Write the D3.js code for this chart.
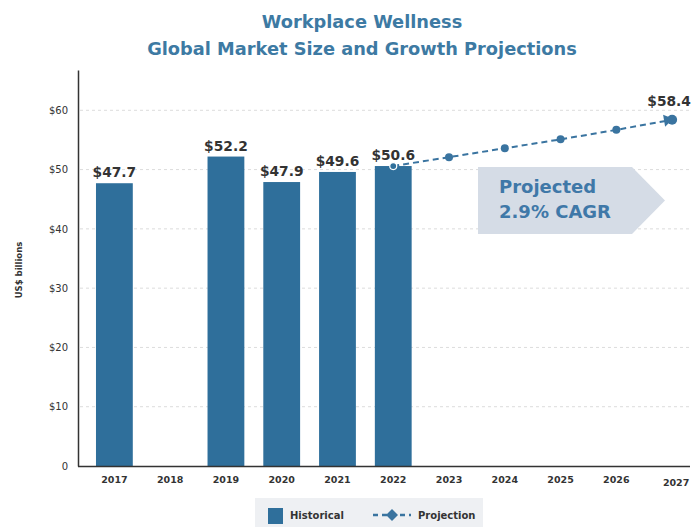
<!DOCTYPE html>
<html>
<head>
<meta charset="utf-8">
<script src="https://cdn.jsdelivr.net/npm/d3@7/dist/d3.min.js"></script>
<style>
  html, body { margin: 0; padding: 0; background: #ffffff; }
  svg { display: block; font-family: "DejaVu Sans", "Open Sans", sans-serif; }
</style>
</head>
<body>
<svg id="chart" width="694" height="527"></svg>
<script>
// Market size by year, US$ billions
const years = ["2017", "2018", "2019", "2020", "2021", "2022", "2023", "2024", "2025", "2026", "2027"];
const historicalYears = ["2017", "2019", "2020", "2021", "2022"];
const historicalValues = [47.7, 52.2, 47.9, 49.6, 50.6];
const projectionYears = ["2022", "2023", "2024", "2025", "2026", "2027"];
const projectionValues = [50.6, 52.1, 53.6, 55.1, 56.7, 58.4];
const yTicks = [0, 10, 20, 30, 40, 50, 60];
const titleLines = ["Workplace Wellness", "Global Market Size and Growth Projections"];
const calloutLines = ["Projected", "2.9% CAGR"];

const barColor = "#2f6f9b";
const lineColor = "#3a74a0";
const titleColor = "#3d7aa3";
const textColor = "#333333";

const svg = d3.select("#chart");

const x = d3.scaleBand().domain(years).range([86.5, 700]).paddingInner(0.34).paddingOuter(0.17);
const y = d3.scaleLinear().domain([0, 66.8]).range([466, 70]);

// Title
svg.append("g").selectAll("text").data(titleLines).join("text")
  .attr("x", 362).attr("y", (d, i) => 28 + i * 27)
  .attr("text-anchor", "middle")
  .attr("fill", titleColor)
  .attr("font-weight", 700)
  .attr("font-size", 17.8)
  .text(d => d);

// Dashed horizontal gridlines
svg.append("g").selectAll("line").data(yTicks.filter(t => t > 0)).join("line")
  .attr("x1", 80).attr("x2", 690)
  .attr("y1", d => y(d)).attr("y2", d => y(d))
  .attr("stroke", "#dcdcdc").attr("stroke-width", 1)
  .attr("stroke-dasharray", "3,3");

// Callout arrow
const cx0 = 478, cx1 = 632, cTip = 665, cy0 = 167, cy1 = 234;
svg.append("path")
  .attr("d", `M${cx0},${cy0}L${cx1},${cy0}L${cTip},${(cy0 + cy1) / 2}L${cx1},${cy1}L${cx0},${cy1}Z`)
  .attr("fill", "#d5dce6");
svg.append("g").selectAll("text").data(calloutLines).join("text")
  .attr("x", 499).attr("y", (d, i) => 193 + i * 25)
  .attr("fill", "#3f78a8")
  .attr("font-weight", 700)
  .attr("font-size", 18)
  .text(d => d);

// Bars
svg.append("g").selectAll("rect").data(historicalYears).join("rect")
  .attr("x", d => x(d))
  .attr("y", (d, i) => y(historicalValues[i]))
  .attr("width", x.bandwidth())
  .attr("height", (d, i) => y(0) - y(historicalValues[i]))
  .attr("fill", barColor);

// Bar value labels
svg.append("g").selectAll("text").data(historicalYears).join("text")
  .attr("x", d => x(d) + x.bandwidth() / 2)
  .attr("y", (d, i) => y(historicalValues[i]) - 6)
  .attr("text-anchor", "middle")
  .attr("fill", textColor)
  .attr("font-weight", 700)
  .attr("font-size", 13.8)
  .text((d, i) => "$" + historicalValues[i].toFixed(1));

// Projection line
const cxOf = d => x(d) + x.bandwidth() / 2;
const line = d3.line().x((d, i) => cxOf(projectionYears[i])).y(d => y(d));
svg.append("path")
  .datum(projectionValues)
  .attr("d", line)
  .attr("fill", "none")
  .attr("stroke", lineColor)
  .attr("stroke-width", 2)
  .attr("stroke-dasharray", "6,4");

const pts = projectionValues.map((v, i) => ({ year: projectionYears[i], v, i }));
// start point: open marker on top of the last bar
svg.append("circle")
  .attr("cx", cxOf(pts[0].year)).attr("cy", y(pts[0].v))
  .attr("r", 3.5)
  .attr("fill", barColor).attr("stroke", "#ffffff").attr("stroke-width", 1.2);
svg.append("g").selectAll("circle").data(pts.slice(1, -1)).join("circle")
  .attr("cx", d => cxOf(d.year)).attr("cy", d => y(d.v))
  .attr("r", 4).attr("fill", lineColor);
// end point with arrowhead
const last = pts[pts.length - 1];
const lx = cxOf(last.year), ly = y(last.v);
svg.append("path")
  .attr("d", `M${lx - 9},${ly - 5}L${lx + 1},${ly - 1}L${lx - 7},${ly + 7}Z`)
  .attr("fill", lineColor);
svg.append("circle").attr("cx", lx).attr("cy", ly).attr("r", 5).attr("fill", lineColor);
svg.append("text")
  .attr("x", lx - 3).attr("y", ly - 14)
  .attr("text-anchor", "middle")
  .attr("fill", textColor)
  .attr("font-weight", 700)
  .attr("font-size", 13.8)
  .text("$" + last.v.toFixed(1));

// Y axis
const yAxis = d3.axisLeft(y).tickValues(yTicks).tickSize(0).tickPadding(10)
  .tickFormat(d => d === 0 ? "0" : "$" + d);
const gy = svg.append("g").attr("transform", "translate(78,0)").call(yAxis);
gy.select(".domain").attr("stroke", "#333").attr("stroke-width", 1.5);
gy.selectAll("text").attr("fill", textColor).attr("font-size", 10)
  .attr("font-family", "'DejaVu Sans', sans-serif").attr("font-weight", 400);

// X axis
const xAxis = d3.axisBottom(x).tickSize(0).tickPadding(10);
const gx = svg.append("g").attr("transform", "translate(0,466)").call(xAxis);
gx.select(".domain").attr("d", "M78,0.5H690").attr("stroke", "#333").attr("stroke-width", 1.5);
gx.selectAll("text").attr("fill", textColor).attr("font-size", 9.5)
  .attr("font-family", "'DejaVu Sans', sans-serif").attr("font-weight", 700)
  .attr("dy", (d) => d === "2027" ? "1.05em" : "0.71em")
  .attr("dx", (d) => d === "2027" ? "4" : "0");

// Y axis title
svg.append("text")
  .attr("transform", "translate(22,270) rotate(-90)")
  .attr("text-anchor", "middle")
  .attr("fill", textColor)
  .attr("font-weight", 700)
  .attr("font-size", 8.5)
  .text("US$ billions");

// Legend
const legend = svg.append("g");
legend.append("rect").attr("x", 255).attr("y", 498).attr("width", 228).attr("height", 29).attr("fill", "#eef0f3");
legend.append("rect").attr("x", 268).attr("y", 508).attr("width", 15).attr("height", 16).attr("fill", barColor);
legend.append("text").attr("x", 290).attr("y", 519).attr("fill", textColor)
  .attr("font-weight", 700).attr("font-size", 10).text("Historical");
legend.append("line").attr("x1", 373).attr("x2", 411).attr("y1", 515).attr("y2", 515)
  .attr("stroke", lineColor).attr("stroke-width", 2.5).attr("stroke-dasharray", "5,4");
legend.append("path").attr("d", "M392,509L398,515L392,521L386,515Z").attr("fill", lineColor);
legend.append("text").attr("x", 418).attr("y", 519).attr("fill", textColor)
  .attr("font-weight", 700).attr("font-size", 10).text("Projection");
</script>
</body>
</html>
